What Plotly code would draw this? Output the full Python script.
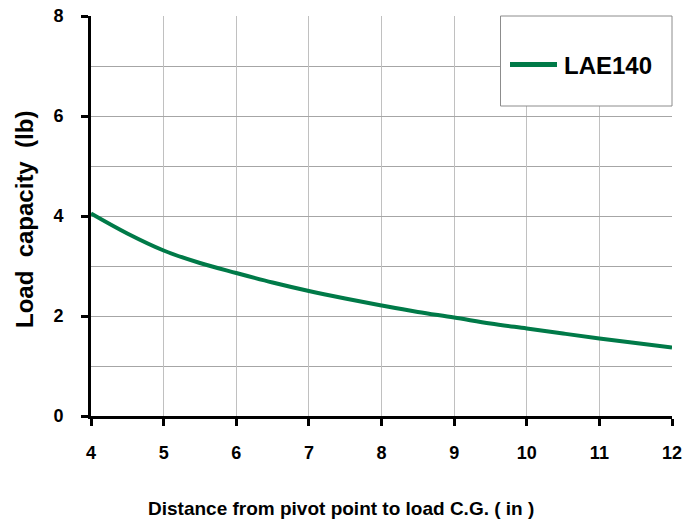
import plotly.graph_objects as go

x_in = [4, 4.5, 5, 5.5, 6, 6.5, 7, 7.5, 8, 8.5, 9, 9.5, 10, 10.5, 11, 11.5, 12]
load_lb = [4.05, 3.65, 3.31, 3.06, 2.86, 2.67, 2.50, 2.35, 2.21, 2.08, 1.97, 1.85, 1.75, 1.65, 1.55, 1.46, 1.37]
series_name = "LAE140"
x_ticks = [4, 5, 6, 7, 8, 9, 10, 11, 12]
y_ticks = [0, 2, 4, 6, 8]
x_title = "Distance from pivot point to load C.G. ( in )"
y_title = "Load\u00a0\u00a0capacity\u00a0\u00a0(lb)"

GREEN = "#007A48"
FONT = "Liberation Sans"

W, H = 684, 520
# plot area in pixels: left 91, right 672, top 16, bottom 416
L, R, T, B = 91, 672, 16, 416
PW, PH = R - L, B - T

def px(xp):
    return (xp - L) / PW

def py(yp):
    return (B - yp) / PH

fig = go.Figure()
fig.add_trace(go.Scatter(
    x=x_in, y=load_lb, mode="lines", name=series_name,
    line=dict(color=GREEN, width=4, shape="spline"),
    showlegend=False,
))

fig.update_layout(
    width=W, height=H,
    margin=dict(l=L, r=W - R, t=T, b=H - B),
    paper_bgcolor="white", plot_bgcolor="white",
    font=dict(family=FONT, color="black"),
    showlegend=False,
    shapes=[
        # legend box
        dict(type="rect", xref="paper", yref="paper",
             x0=px(500.5), x1=px(672), y0=py(106), y1=py(16),
             line=dict(color="#8c8c8c", width=1), fillcolor="white", layer="above"),
        # legend line sample
        dict(type="line", xref="paper", yref="paper",
             x0=px(510), x1=px(557), y0=py(64.5), y1=py(64.5),
             line=dict(color=GREEN, width=5), layer="above"),
    ],
    annotations=[
        dict(text=series_name, xref="paper", yref="paper",
             x=px(562), y=py(65), xanchor="left", yanchor="middle", showarrow=False,
             font=dict(family=FONT, size=24, weight="bold", color="black")),
        dict(text=x_title, xref="paper", yref="paper",
             x=px(341), y=py(508), xanchor="center", yanchor="middle", showarrow=False,
             font=dict(family=FONT, size=19, weight="bold", color="black")),
        dict(text=y_title, xref="paper", yref="paper", textangle=-90,
             x=px(24), y=py(220), xanchor="center", yanchor="middle", showarrow=False,
             font=dict(family=FONT, size=24, weight="bold", color="black")),
    ],
)

fig.update_xaxes(
    range=[4, 12], tickvals=x_ticks, ticktext=[str(v) for v in x_ticks],
    showgrid=True, gridcolor="#c0c0c0", gridwidth=1,
    showline=True, linecolor="black", linewidth=3,
    ticks="outside", ticklen=7, tickwidth=3, tickcolor="black",
    tickfont=dict(family=FONT, size=18, weight="bold", color="black"),
    ticklabelstandoff=11, ticklabeloverflow="allow",
    zeroline=False, automargin=False,
)
fig.update_yaxes(
    range=[0, 8], tickvals=y_ticks, ticktext=[str(v) for v in y_ticks],
    showgrid=True, gridcolor="#a6a6a6", gridwidth=1,
    minor=dict(dtick=1, showgrid=True, gridcolor="#a6a6a6", gridwidth=1, ticks=""),
    showline=True, linecolor="black", linewidth=3,
    ticks="outside", ticklen=7, tickwidth=3, tickcolor="black",
    tickfont=dict(family=FONT, size=18, weight="bold", color="black"),
    ticklabelstandoff=14, ticklabeloverflow="allow",
    zeroline=False, automargin=False,
)

# remove the browser's default 8px body margin so the figure fills the window
fig.write_html(
    "out.html",
    config={"displayModeBar": False},
    post_script="document.body.style.margin='0px';document.body.style.overflow='hidden';",
)
